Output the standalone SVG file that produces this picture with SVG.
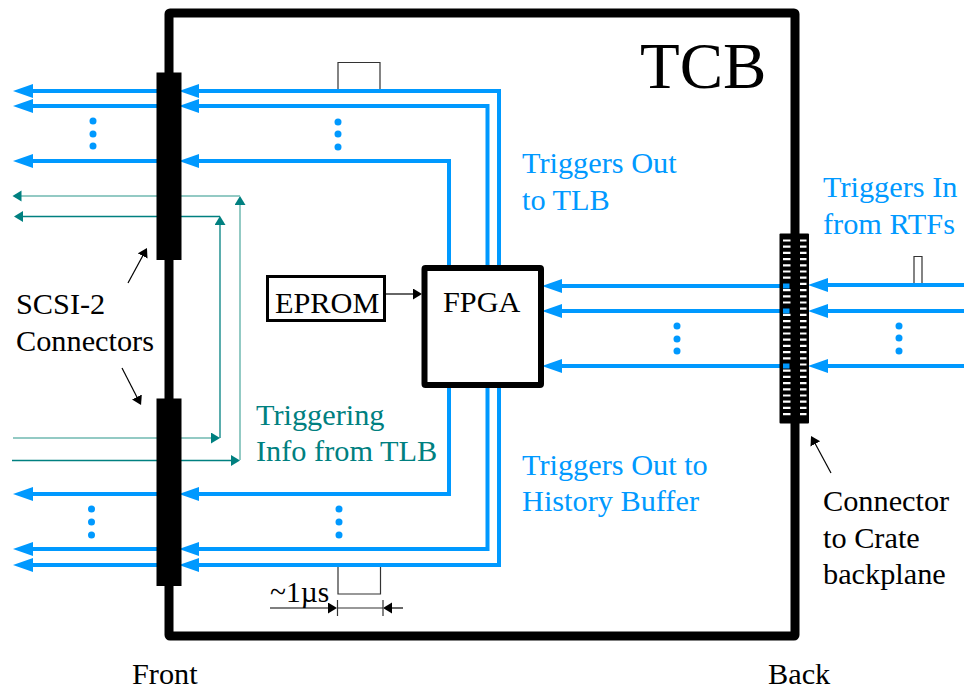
<svg xmlns="http://www.w3.org/2000/svg" width="964" height="691" viewBox="0 0 964 691">
<defs>
<style>
text{font-family:"Liberation Serif","Times New Roman",serif;font-size:30.300px;fill:#000}
.b{fill:#0099ff}.g{fill:#008080}
.bl{fill:none;stroke:#0099ff;stroke-width:4;marker-end:url(#ab)}
.tl{fill:none;stroke:#008080;stroke-width:1.300;marker-end:url(#at)}
.tp{fill:none;stroke:#6fb8b0;stroke-width:1.500;marker-end:url(#at)}
.k{fill:none;stroke:#000;stroke-width:1.200;marker-end:url(#ak)}
.p{fill:none;stroke:#333;stroke-width:1.200}
.d{fill:#0099ff}
</style>
<marker id="ab" markerUnits="userSpaceOnUse" markerWidth="21" markerHeight="15" refX="8" refY="7.500" orient="auto"><path d="M0 0.500L20 7.500L0 14.500z" fill="#0099ff"/></marker>
<marker id="at" markerUnits="userSpaceOnUse" markerWidth="10" markerHeight="12" refX="3" refY="5.500" orient="auto"><path d="M0 0L9 5.500L0 11z" fill="#008080"/></marker>
<marker id="ak" markerUnits="userSpaceOnUse" markerWidth="10" markerHeight="12" refX="3" refY="5.500" orient="auto"><path d="M0 0L9 5.500L0 11z" fill="#000"/></marker>
</defs>
<g id="pulses">
<path class="p" d="M338 90V62.500H380V90"/>
<path class="p" d="M914 284V256.500H922V284"/>
<path class="p" d="M338 565V594H380.500V565"/>
</g>
<g id="board"><rect x="169" y="13" width="626" height="623" fill="none" stroke="#000" stroke-width="9" rx="1"/></g>
<g id="connectors">
<path class="bl" d="M499 268V91H191"/>
<path class="bl" d="M487.500 268V106H191"/>
<path class="bl" d="M449 268V161H191"/>
<path class="bl" d="M499 385V565H191"/>
<path class="bl" d="M487.500 385V549H191"/>
<path class="bl" d="M449 385V494H191"/>
<path class="bl" d="M160 91H25"/>
<path class="bl" d="M160 106H25"/>
<path class="bl" d="M160 161H25"/>
<path class="bl" d="M160 494H25"/>
<path class="bl" d="M160 549H25"/>
<path class="bl" d="M160 565H25"/>
<path class="bl" d="M964 285H820"/>
<path class="bl" d="M964 311H820"/>
<path class="bl" d="M964 366H820"/>
<path class="bl" d="M790 286H554"/>
<path class="bl" d="M790 311H554"/>
<path class="bl" d="M790 366H554"/>
<path class="tp" d="M240 460V202"/>
<path class="tp" d="M240 196H18.500"/>
<path class="tl" d="M220 438V222"/>
<path class="tl" d="M220 216.500H20"/>
<path class="tp" d="M13 438H214"/>
<path class="tl" d="M12 460.500H234"/>
<path class="k" d="M386 294H416"/>
<path class="k" d="M128 283L144.100 253.300"/>
<path class="k" d="M122 368L138.300 399.700"/>
<path class="k" d="M831 473L813.900 441.300"/>
<path class="k" d="M270 608H331"/>
<path class="k" d="M403 608H389"/>
<path class="p" d="M337 608H383M337.500 600V616M383 600V616"/>
</g>
<g id="connector-top"><rect x="156.500" y="72.500" width="25" height="187.500"/></g>
<g id="connector-bottom"><rect x="156.500" y="398.500" width="25" height="187.500"/></g>
<g id="connector-back">
<rect x="779.500" y="233.500" width="29.500" height="190" rx="1"/>
<path stroke="#fff" stroke-width="2.200" d="M783 240.500h7.500M800 240.500h6.500M783 246.700h7.500M800 246.700h6.500M783 252.900h7.500M800 252.900h6.500M783 259.100h7.500M800 259.100h6.500M783 265.300h7.500M800 265.300h6.500M783 271.500h7.500M800 271.500h6.500M783 277.700h7.500M800 277.700h6.500M800 283.900h6.500M783 290.100h7.500M800 290.100h6.500M783 296.300h7.500M800 296.300h6.500M783 302.500h7.500M800 302.500h6.500M800 308.700h6.500M783 314.900h7.500M800 314.900h6.500M783 321.100h7.500M800 321.100h6.500M783 327.300h7.500M800 327.300h6.500M783 333.500h7.500M800 333.500h6.500M783 339.700h7.500M800 339.700h6.500M783 345.900h7.500M800 345.900h6.500M783 352.100h7.500M800 352.100h6.500M783 358.300h7.500M800 358.300h6.500M800 364.500h6.500M783 370.700h7.500M800 370.700h6.500M783 376.900h7.500M800 376.900h6.500M783 383.100h7.500M800 383.100h6.500M783 389.300h7.500M800 389.300h6.500M783 395.500h7.500M800 395.500h6.500M783 401.700h7.500M800 401.700h6.500M783 407.900h7.500M800 407.900h6.500M783 414.100h7.500M800 414.100h6.500"/>
<path class="d" d="M783 283.500h6.500v5h-6.500zM783 308.500h6.500v5h-6.500zM783 363.500h6.500v5h-6.500z"/>
</g>
<g id="dots" class="d">
<circle cx="93" cy="121" r="3.500"/><circle cx="93" cy="134" r="3.500"/><circle cx="93" cy="146" r="3.500"/>
<circle cx="338" cy="122" r="3.500"/><circle cx="338" cy="134" r="3.500"/><circle cx="338" cy="147" r="3.500"/>
<circle cx="91.500" cy="509" r="3.500"/><circle cx="91.500" cy="522" r="3.500"/><circle cx="91.500" cy="535" r="3.500"/>
<circle cx="339" cy="509" r="3.500"/><circle cx="339" cy="522" r="3.500"/><circle cx="339" cy="535" r="3.500"/>
<circle cx="677" cy="326" r="3.500"/><circle cx="677" cy="339" r="3.500"/><circle cx="677" cy="351" r="3.500"/>
<circle cx="899" cy="326" r="3.500"/><circle cx="899" cy="338" r="3.500"/><circle cx="899" cy="351" r="3.500"/>
</g>
<g id="fpga"><rect x="424.500" y="268" width="116.500" height="117" fill="#fff" stroke="#000" stroke-width="6" rx="1"/><text x="443" y="312">FPGA</text></g>
<g id="eprom"><rect x="267.500" y="276.500" width="117" height="44" fill="#fff" stroke="#000" stroke-width="3"/><text x="275" y="313">EPROM</text></g>
<g id="labels">
<text x="640" y="88" style="font-size:65px">TCB</text>
<text class="b" x="522" y="173">Triggers Out</text>
<text class="b" x="522" y="210">to TLB</text>
<text class="b" x="823" y="197">Triggers In</text>
<text class="b" x="823" y="234">from RTFs</text>
<text class="g" x="256" y="425">Triggering</text>
<text class="g" x="256" y="461">Info from TLB</text>
<text class="b" x="522" y="475">Triggers Out to</text>
<text class="b" x="522" y="511">History Buffer</text>
<text x="16" y="314">SCSI-2</text>
<text x="16" y="351">Connectors</text>
<text x="270" y="602" style="font-size:29.500px">~1µs</text>
<text x="132" y="684">Front</text>
<text x="768" y="684">Back</text>
<text x="823" y="511">Connector</text>
<text x="823" y="548">to Crate</text>
<text x="823" y="584">backplane</text>
</g>
</svg>
